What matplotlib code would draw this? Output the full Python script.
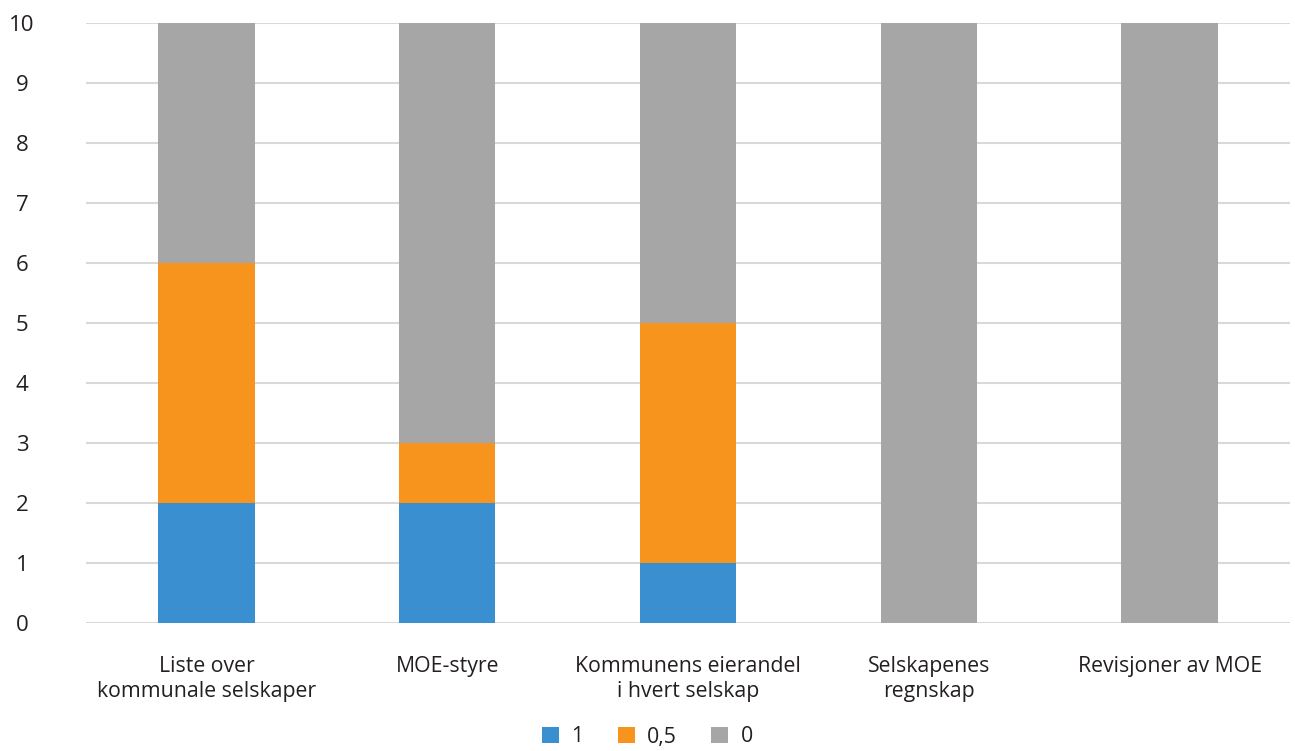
import numpy as np
import matplotlib.pyplot as plt

categories = [
    "Liste over\nkommunale selskaper",
    "MOE-styre",
    "Kommunens eierandel\ni hvert selskap",
    "Selskapenes\nregnskap",
    "Revisjoner av MOE",
]
score_1 = [2, 2, 1, 0, 0]
score_05 = [4, 1, 4, 0, 0]
score_0 = [4, 7, 5, 10, 10]
series_labels = ["1", "0,5", "0"]

colors = ["#3A8FD0", "#F7941D", "#A6A6A6"]

plt.rcParams["font.family"] = ["Open Sans", "DejaVu Sans"]

fig = plt.figure(figsize=(12.95, 7.51), dpi=100)
ax = fig.add_axes([86 / 1295, 1 - 623 / 751, (1290 - 86) / 1295, 600 / 751])

x = np.arange(len(categories))
width = 0.4
bottom = np.zeros(len(categories))
for vals, lab, col in zip([score_1, score_05, score_0], series_labels, colors):
    ax.bar(x, vals, width, bottom=bottom, color=col, label=lab, zorder=3)
    bottom += np.array(vals)

ax.set_xlim(-0.5, len(categories) - 0.5)
ax.set_ylim(0, 10)
ax.set_yticks(range(0, 11))
ax.set_xticks(x)
ax.set_xticklabels(categories, fontsize=15.3, color="#231F20", linespacing=1.25)
ax.tick_params(axis="y", labelsize=16, colors="#231F20", length=0, pad=46)
ax.tick_params(axis="x", length=0, pad=24)
for lbl in ax.get_yticklabels():
    lbl.set_horizontalalignment("center")

ax.grid(axis="y", color="#D9D9D9", linewidth=1.5, zorder=0)
for s in ax.spines.values():
    s.set_visible(False)

fig.legend(
    loc="center",
    bbox_to_anchor=(0.5, 1 - 737 / 751),
    ncol=3,
    frameon=False,
    fontsize=15.3,
    handlelength=0.8,
    handleheight=0.8,
    handletextpad=0.6,
    columnspacing=1.6,
    labelcolor="#231F20",
)

fig.savefig("out.png", dpi=100)
